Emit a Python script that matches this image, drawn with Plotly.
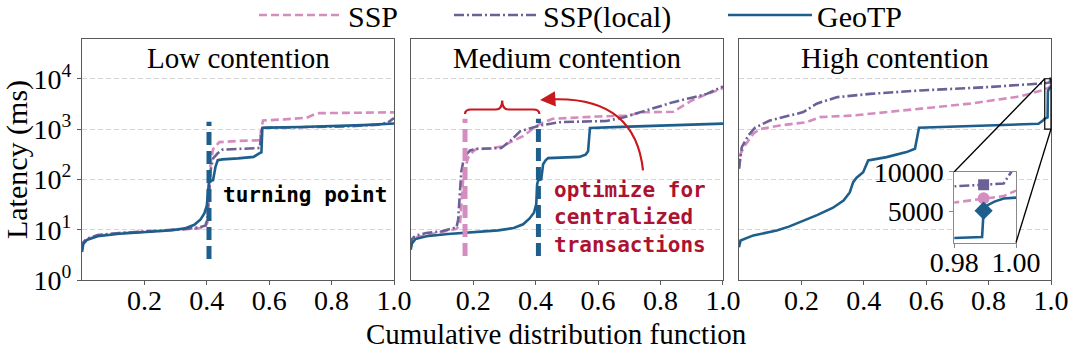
import math
import plotly.graph_objects as go

# ---------------- data ----------------
SERIES = ["SSP", "SSP(local)", "GeoTP"]
PANEL_TITLES = ["Low contention", "Medium contention", "High contention"]
X_TICKS = [0.2, 0.4, 0.6, 0.8, 1.0]
X_TICKTEXT = ["0.2", "0.4", "0.6", "0.8", "1.0"]
Y_TICKS = [1, 10, 100, 1000, 10000]
Y_TICKTEXT = ["10<sup>0</sup>", "10<sup>1</sup>", "10<sup>2</sup>", "10<sup>3</sup>", "10<sup>4</sup>"]
INSET_X_TICKS = [0.98, 1.00]
INSET_X_TICKTEXT = ["0.98", "1.00"]
INSET_Y_TICKS = [5000, 10000]
INSET_Y_TICKTEXT = ["5000", "10000"]
INSET_X_RANGE = [0.98, 1.00]
INSET_Y_RANGE = [1000, 10000]

# Low contention
low_ssp_x = [0, 0.004, 0.015, 0.05, 0.12, 0.2, 0.28, 0.33, 0.37, 0.395, 0.402, 0.406, 0.412, 0.42, 0.44, 0.5, 0.57, 0.575, 0.58, 0.65, 0.72, 0.74, 0.76, 0.85, 1.0]
low_ssp_y = [4.0, 5.4, 6.4, 7.6, 8.5, 9.1, 9.6, 10.0, 10.5, 11.2, 14, 40, 200, 400, 550, 580, 600, 1000, 1480, 1560, 1680, 1900, 2070, 2100, 2150]
low_local_x = [0, 0.004, 0.015, 0.05, 0.12, 0.2, 0.28, 0.33, 0.37, 0.395, 0.402, 0.406, 0.412, 0.42, 0.435, 0.45, 0.5, 0.57, 0.575, 0.58, 0.7, 0.85, 0.95, 0.98, 1.0]
low_local_y = [4.2, 5.6, 6.6, 7.8, 8.6, 9.2, 9.8, 10.3, 11, 12, 16, 50, 150, 260, 330, 390, 400, 420, 1000, 1060, 1090, 1130, 1220, 1350, 1650]
low_geotp_x = [0, 0.004, 0.015, 0.05, 0.12, 0.2, 0.28, 0.33, 0.36, 0.38, 0.392, 0.4, 0.404, 0.407, 0.42, 0.428, 0.435, 0.45, 0.5, 0.55, 0.568, 0.575, 0.578, 0.6, 0.7, 0.8, 0.9, 1.0]
low_geotp_y = [3.6, 5.2, 6.2, 7.4, 8.3, 8.9, 9.6, 10.6, 12.5, 16, 21, 30, 60, 92, 96, 180, 240, 250, 262, 280, 330, 345, 1050, 1070, 1100, 1140, 1200, 1290]

# Medium contention
med_ssp_x = [0, 0.004, 0.015, 0.05, 0.1, 0.147, 0.158, 0.163, 0.168, 0.175, 0.185, 0.2, 0.21, 0.25, 0.29, 0.33, 0.36, 0.39, 0.414, 0.455, 0.52, 0.6, 0.7, 0.735, 0.84, 0.87, 0.9, 0.95, 1.0]
med_ssp_y = [4.5, 6.0, 7.0, 7.8, 8.8, 10.4, 13, 40, 100, 175, 280, 360, 400, 410, 450, 590, 720, 1000, 1275, 1600, 1700, 1780, 1850, 2150, 2200, 2900, 3700, 5000, 6500]
med_local_x = [0, 0.004, 0.015, 0.05, 0.1, 0.147, 0.152, 0.157, 0.162, 0.168, 0.175, 0.19, 0.21, 0.25, 0.29, 0.32, 0.35, 0.36, 0.414, 0.477, 0.55, 0.627, 0.68, 0.734, 0.79, 0.841, 0.9, 0.948, 1.0]
med_local_y = [5.0, 6.5, 7.6, 8.6, 9.3, 11.2, 16, 50, 140, 220, 300, 375, 405, 410, 420, 590, 900, 940, 1180, 1370, 1420, 1450, 1700, 2170, 2700, 3430, 4200, 5000, 7000]
med_geotp_x = [0, 0.004, 0.015, 0.05, 0.12, 0.2, 0.28, 0.33, 0.36, 0.38, 0.395, 0.402, 0.405, 0.408, 0.418, 0.424, 0.432, 0.44, 0.5, 0.54, 0.56, 0.568, 0.574, 0.6, 0.7, 0.8, 0.9, 1.0]
med_geotp_y = [4.0, 5.3, 6.5, 7.4, 8.2, 8.8, 9.7, 10.8, 12.8, 16.5, 22, 32, 80, 95, 100, 200, 240, 265, 270, 280, 310, 360, 1050, 1070, 1120, 1170, 1220, 1280]

# High contention
high_ssp_x = [0, 0.005, 0.019, 0.046, 0.067, 0.131, 0.217, 0.26, 0.366, 0.473, 0.58, 0.74, 0.9, 0.975, 0.98, 0.99, 0.996, 1.0]
high_ssp_y = [163, 323, 472, 805, 1000, 1180, 1370, 1730, 1860, 2170, 2520, 3200, 4450, 5850, 6080, 6600, 6900, 7600]
high_local_x = [0, 0.009, 0.03, 0.051, 0.099, 0.206, 0.249, 0.313, 0.42, 0.58, 0.794, 0.975, 0.98, 0.99, 0.996, 0.9985, 1.0]
high_local_y = [163, 437, 746, 1060, 1480, 2170, 3200, 4300, 5000, 5850, 6800, 7950, 8140, 8350, 8500, 10000, 12000]
high_geotp_x = [0, 0.005, 0.046, 0.121, 0.16, 0.2, 0.25, 0.3, 0.335, 0.355, 0.366, 0.377, 0.398, 0.414, 0.473, 0.537, 0.564, 0.577, 0.7, 0.9, 0.96, 0.975, 0.98, 0.989, 0.9895, 0.99, 0.993, 0.996, 1.0]
high_geotp_y = [4.5, 6.1, 7.7, 9.6, 11.5, 14.5, 19.5, 27, 38, 55, 88, 108, 139, 238, 277, 348, 407, 1060, 1120, 1200, 1275, 1500, 1610, 1700, 5040, 5600, 6200, 6600, 6700]

# inset markers (x, y per series)
marker_x = 0.9895
marker_y = {"SSP": 6610, "SSP(local)": 8350, "GeoTP": 5040}

# turning-point lines
low_turn_geotp_x = 0.407
low_turn_y = [2.6, 1400]
med_turn_ssp_x = 0.174
med_turn_geotp_x = 0.409
med_turn_y = [3.0, 1600]

# ---------------- styling ----------------
COLORS = {"SSP": "#d58cbf", "SSP(local)": "#6d6096", "GeoTP": "#1d5e8c"}
DASHES = {"SSP": "8px,4px", "SSP(local)": "10px,3px,2px,3px", "GeoTP": "solid"}
SERIF = "Liberation Serif, Times New Roman, serif"
MONO = "DejaVu Sans Mono, monospace"
RED = "#c8191e"
TEXT_RED = "#ad1230"

X_RANGE = [0, 1]
Y_RANGE_LOG = [0, 4.79]
X_DOMAINS = [[0.0, 0.322], [0.3392, 0.6615], [0.678, 1.0]]
INSET_X_DOMAIN = [0.9002, 0.9639]
INSET_Y_DOMAIN = [0.1556, 0.4494]


def px_x(panel, xv):
    d = X_DOMAINS[panel]
    return d[0] + (xv - X_RANGE[0]) / (X_RANGE[1] - X_RANGE[0]) * (d[1] - d[0])


def py_log(v):
    return (math.log10(v) - Y_RANGE_LOG[0]) / (Y_RANGE_LOG[1] - Y_RANGE_LOG[0])


data = {
    0: {"SSP": (low_ssp_x, low_ssp_y), "SSP(local)": (low_local_x, low_local_y), "GeoTP": (low_geotp_x, low_geotp_y)},
    1: {"SSP": (med_ssp_x, med_ssp_y), "SSP(local)": (med_local_x, med_local_y), "GeoTP": (med_geotp_x, med_geotp_y)},
    2: {"SSP": (high_ssp_x, high_ssp_y), "SSP(local)": (high_local_x, high_local_y), "GeoTP": (high_geotp_x, high_geotp_y)},
}

fig = go.Figure()
LEGEND_IDS = {"SSP": "legend", "SSP(local)": "legend2", "GeoTP": "legend3"}

for p in range(3):
    ax = "" if p == 0 else str(p + 1)
    for s in SERIES:
        xs, ys = data[p][s]
        fig.add_trace(go.Scatter(
            x=xs, y=ys, mode="lines", name=s,
            line=dict(color=COLORS[s], width=2.6, dash=DASHES[s]),
            xaxis="x" + ax, yaxis="y" + ax,
            showlegend=(p == 0), legend=LEGEND_IDS[s], legendgroup=s,
        ))

# inset traces
for s in SERIES:
    xs, ys = data[2][s]
    fig.add_trace(go.Scatter(
        x=xs, y=ys, mode="lines", name=s,
        line=dict(color=COLORS[s], width=2.6, dash=DASHES[s]),
        xaxis="x4", yaxis="y4", showlegend=False, legendgroup=s,
    ))
MARKER_SYMBOLS = {"SSP": "circle", "SSP(local)": "square", "GeoTP": "diamond"}
MARKER_SIZES = {"SSP": 12, "SSP(local)": 11, "GeoTP": 14}
for s in SERIES:
    fig.add_trace(go.Scatter(
        x=[marker_x], y=[marker_y[s]], mode="markers", name=s,
        marker=dict(color=COLORS[s], symbol=MARKER_SYMBOLS[s], size=MARKER_SIZES[s]),
        xaxis="x4", yaxis="y4", showlegend=False, legendgroup=s,
    ))

# turning point vertical dashed lines
TURN_DASH = "13px,6px"
fig.add_trace(go.Scatter(x=[low_turn_geotp_x] * 2, y=low_turn_y, mode="lines",
                         line=dict(color=COLORS["GeoTP"], width=5, dash=TURN_DASH),
                         xaxis="x", yaxis="y", showlegend=False, hoverinfo="skip"))
fig.add_trace(go.Scatter(x=[med_turn_ssp_x] * 2, y=med_turn_y, mode="lines",
                         line=dict(color=COLORS["SSP"], width=5, dash=TURN_DASH),
                         xaxis="x2", yaxis="y2", showlegend=False, hoverinfo="skip"))
fig.add_trace(go.Scatter(x=[med_turn_geotp_x] * 2, y=med_turn_y, mode="lines",
                         line=dict(color=COLORS["GeoTP"], width=5, dash=TURN_DASH),
                         xaxis="x2", yaxis="y2", showlegend=False, hoverinfo="skip"))

# ---------------- axes ----------------
AXIS_LINE = "#5a5a5a"
tickfont = dict(family=SERIF, size=28, color="black")
layout = dict(
    width=1080, height=355,
    margin=dict(l=82, r=29, t=39, b=75, autoexpand=False),
    paper_bgcolor="white", plot_bgcolor="white",
    showlegend=True,
)
for p in range(3):
    ax = "" if p == 0 else str(p + 1)
    layout["xaxis" + ax] = dict(
        domain=X_DOMAINS[p], range=X_RANGE, anchor="y" + ax,
        tickvals=X_TICKS, ticktext=X_TICKTEXT, tickfont=tickfont,
        ticks="outside", ticklen=4, tickcolor=AXIS_LINE, ticklabelstandoff=-9,
        showline=True, mirror=True, linecolor=AXIS_LINE, linewidth=1,
        showgrid=False, zeroline=False,
    )
    layout["yaxis" + ax] = dict(
        domain=[0, 1], type="log", range=Y_RANGE_LOG, anchor="x" + ax,
        tickvals=Y_TICKS, ticktext=Y_TICKTEXT, tickfont=tickfont,
        showticklabels=(p == 0), ticks="outside" if p == 0 else "", ticklen=4, tickcolor=AXIS_LINE,
        showline=True, mirror=True, linecolor=AXIS_LINE, linewidth=1,
        showgrid=True, gridcolor="#d6d6d6", gridwidth=1, griddash="5px,3px",
        zeroline=False,
    )
layout["yaxis"]["title"] = dict(text="Latency (ms)", font=dict(family=SERIF, size=30, color="black"), standoff=21)

layout["xaxis4"] = dict(
    domain=INSET_X_DOMAIN, range=INSET_X_RANGE, anchor="y4",
    tickvals=INSET_X_TICKS, ticktext=INSET_X_TICKTEXT, tickfont=tickfont,
    ticks="outside", ticklen=4, tickcolor="#888", ticklabelstandoff=-9,
    showline=True, mirror=True, linecolor="#8a8a8a", linewidth=1,
    showgrid=False, zeroline=False,
)
layout["yaxis4"] = dict(
    domain=INSET_Y_DOMAIN, range=INSET_Y_RANGE, anchor="x4",
    tickvals=INSET_Y_TICKS, ticktext=INSET_Y_TICKTEXT, tickfont=tickfont,
    ticks="outside", ticklen=4, tickcolor="#888",
    showline=True, mirror=True, linecolor="#8a8a8a", linewidth=1,
    showgrid=False, zeroline=False,
)

# legends (one per series, laid out in a row above the panels)
LEGEND_X = {"legend": 254 / 1080, "legend2": 449 / 1080, "legend3": 723 / 1080}
for lid, lx in LEGEND_X.items():
    layout[lid] = dict(
        x=lx, y=1 - 15 / 355, xref="container", yref="container",
        xanchor="left", yanchor="middle", orientation="h",
        font=dict(family=SERIF, size=30, color="black"),
        itemwidth=84, bgcolor="rgba(0,0,0,0)", borderwidth=0,
    )

fig.update_layout(**layout)

# ---------------- annotations ----------------
annotations = []
for p, t in enumerate(PANEL_TITLES):
    annotations.append(dict(
        text=t, x=(X_DOMAINS[p][0] + X_DOMAINS[p][1]) / 2, y=0.921,
        xref="paper", yref="paper", xanchor="center", yanchor="middle",
        showarrow=False, font=dict(family=SERIF, size=29, color="black"),
    ))
annotations.append(dict(
    text="Cumulative distribution function", x=0.49, y=-0.225,
    xref="paper", yref="paper", xanchor="center", yanchor="middle",
    showarrow=False, font=dict(family=SERIF, size=29, color="black"),
))
annotations.append(dict(
    text="<b>turning point</b>", x=0.447, y=math.log10(48),
    xref="x", yref="y", xanchor="left", yanchor="middle",
    showarrow=False, font=dict(family=MONO, size=21, color="black"),
))
annotations.append(dict(
    text="<b>optimize for<br>centralized<br>transactions</b>", x=0.452, y=math.log10(17.5),
    xref="x2", yref="y2", xanchor="left", yanchor="middle", align="left",
    showarrow=False, font=dict(family=MONO, size=21, color=TEXT_RED),
))

# curved arrow: start, control, tip (panel 2 data units)
arr_p0 = (0.744, 151)
arr_c = (0.718, 4700)
arr_tip = (0.414, 3800)
annotations.append(dict(
    text="", x=arr_tip[0], y=math.log10(arr_tip[1]), xref="x2", yref="y2",
    ax=16, ay=-1, axref="pixel", ayref="pixel",
    showarrow=True, arrowhead=2, arrowsize=1.4, arrowwidth=2.2, arrowcolor=RED,
))
fig.update_layout(annotations=annotations)

shapes = []
shapes.append(dict(
    type="path", xref="x2", yref="y2 domain",
    path="M {:.4f},{:.4f} Q {:.4f},{:.4f} {:.4f},{:.4f}".format(
        arr_p0[0], py_log(arr_p0[1]), arr_c[0], py_log(arr_c[1]), arr_tip[0] + 0.03, py_log(arr_tip[1] * 1.02)),
    line=dict(color=RED, width=2.2),
))
# curly brace spanning the two turning points
xl, xr = med_turn_ssp_x, med_turn_geotp_x + 0.003
xm = (xl + xr) / 2
ye, yb, yt = py_log(2000), py_log(2450), py_log(3700)
dx = 0.02
brace = ("M {xl},{ye} Q {xl},{yb} {xl2},{yb} L {xm1},{yb} Q {xm},{yb} {xm},{yt} "
         "Q {xm},{yb} {xm2},{yb} L {xr1},{yb} Q {xr},{yb} {xr},{ye}").format(
    xl=xl, ye=ye, yb=yb, xl2=xl + dx, xm1=xm - dx, xm=xm, yt=yt, xm2=xm + dx, xr1=xr - dx, xr=xr)
shapes.append(dict(type="path", xref="x2", yref="y2 domain", path=brace,
                   line=dict(color=RED, width=2.2)))

# zoom rectangle and connectors for inset
rx0, rx1 = px_x(2, INSET_X_RANGE[0]), px_x(2, INSET_X_RANGE[1])
ry0, ry1 = py_log(INSET_Y_RANGE[0]), py_log(INSET_Y_RANGE[1])
shapes.append(dict(type="rect", xref="paper", yref="paper", x0=rx0, x1=rx1, y0=ry0, y1=ry1,
                   line=dict(color="black", width=1.2)))
shapes.append(dict(type="line", xref="paper", yref="paper", x0=rx0, y0=ry1,
                   x1=INSET_X_DOMAIN[0], y1=INSET_Y_DOMAIN[1], line=dict(color="black", width=1.3)))
shapes.append(dict(type="line", xref="paper", yref="paper", x0=rx1, y0=ry0,
                   x1=INSET_X_DOMAIN[1], y1=INSET_Y_DOMAIN[0], line=dict(color="black", width=1.3)))
fig.update_layout(shapes=shapes)

fig.write_html("out.html", config={"displayModeBar": False},
               post_script="document.body.style.margin='0';document.body.style.overflow='hidden';")
